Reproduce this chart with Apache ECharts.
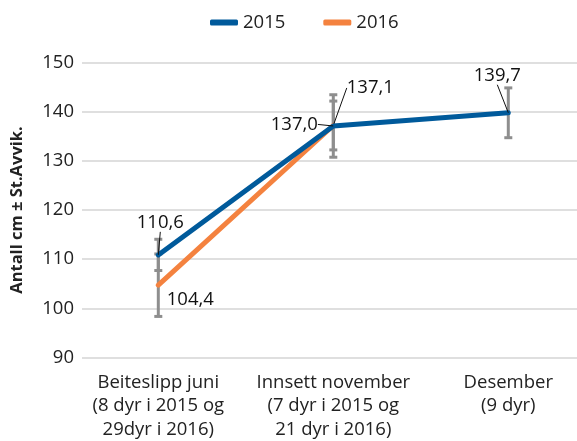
<!DOCTYPE html>
<html><head><meta charset="utf-8">
<script src="https://cdn.jsdelivr.net/npm/echarts@6/dist/echarts.min.js"></script>
<style>html,body{margin:0;padding:0;background:#fff}#c{width:577px;height:441px}</style>
</head><body><div id="c"></div>
<script>
var categories = ['Beiteslipp juni\n(8 dyr i 2015 og\n29dyr i 2016)', 'Innsett november\n(7 dyr i 2015 og\n21 dyr i 2016)', 'Desember\n(9 dyr)'];
var yTicks = [90, 100, 110, 120, 130, 140, 150];
var s2015 = [110.6, 137.0, 139.7];
var s2016 = [104.4, 137.1, null];
var sd2015 = [3.2, 6.4, 5.1];
var sd2016 = [6.4, 5.0, null];

var FONT = 'Open Sans';
var FS = 18.5;
var chart = echarts.init(document.getElementById('c'));

function errData(vals, sds) {
  var out = [];
  for (var i = 0; i < vals.length; i++) {
    if (vals[i] == null) continue;
    out.push([i, vals[i] - sds[i], vals[i] + sds[i]]);
  }
  return out;
}
function renderErr(params, api) {
  var lo = api.coord([api.value(0), api.value(1)]);
  var hi = api.coord([api.value(0), api.value(2)]);
  var w = 4;
  var st = {stroke: '#8e8e8e', lineWidth: 3};
  return {type: 'group', children: [
    {type: 'line', shape: {x1: lo[0], y1: lo[1], x2: hi[0], y2: hi[1]}, style: st},
    {type: 'line', shape: {x1: lo[0] - w, y1: lo[1], x2: lo[0] + w, y2: lo[1]}, style: st},
    {type: 'line', shape: {x1: hi[0] - w, y1: hi[1], x2: hi[0] + w, y2: hi[1]}, style: st}
  ]};
}
function fmt(p) { var v = typeof p.value === 'object' ? p.value.value : p.value; return Number(v).toFixed(1).replace('.', ','); }

var offsets = {
  '0-0': [2, -23], '0-1': [-39, 8], '0-2': [-11, -28],
  '1-0': [32, 24], '1-1': [37, -28]
};

var d2016 = s2016.map(function (v, i) {
  if (i === 0) return {value: v, labelLine: {show: false}};
  return v;
});

chart.setOption({
  animation: false,
  textStyle: {fontFamily: FONT},
  legend: {
    top: 8, left: 205, itemWidth: 28, itemHeight: 6, itemGap: 38,
    icon: 'roundRect',
    textStyle: {fontSize: FS, color: '#222', fontFamily: FONT},
    data: ['2015', '2016']
  },
  grid: [
    {left: 82, right: 0, top: 62.5, bottom: 83.5},
    {left: 158.3, right: 68.7, top: 62.5, bottom: 83.5}
  ],
  xAxis: [
    {gridIndex: 0, type: 'value', min: 0, max: 1, show: false},
    {gridIndex: 1, type: 'category', data: categories, boundaryGap: false,
     axisLine: {show: false}, axisTick: {show: false}, splitLine: {show: false},
     axisLabel: {fontSize: FS, color: '#222', lineHeight: 23.5, margin: 15, fontFamily: FONT, interval: 0}}
  ],
  yAxis: [
    {gridIndex: 0, type: 'value', min: yTicks[0], max: yTicks[yTicks.length - 1], interval: 10,
     name: 'Antall cm ± St.Avvik.', nameLocation: 'middle', nameGap: 56, nameRotate: 90,
     nameTextStyle: {fontSize: 16.5, fontWeight: 'bold', color: '#222', fontFamily: FONT},
     axisLine: {show: false}, axisTick: {show: false},
     axisLabel: {fontSize: FS, color: '#222', margin: 8, fontFamily: FONT},
     splitLine: {lineStyle: {color: '#d4d4d4', width: 1.5}}},
    {gridIndex: 1, type: 'value', min: yTicks[0], max: yTicks[yTicks.length - 1], interval: 10, show: false}
  ],
  series: [
    {type: 'custom', xAxisIndex: 1, yAxisIndex: 1, renderItem: renderErr, data: errData(s2016, sd2016), z: 1, silent: true},
    {type: 'custom', xAxisIndex: 1, yAxisIndex: 1, renderItem: renderErr, data: errData(s2015, sd2015), z: 1, silent: true},
    {name: '2016', type: 'line', xAxisIndex: 1, yAxisIndex: 1, data: d2016, z: 3,
     color: '#f4823f', lineStyle: {width: 5, color: '#f4823f', cap: 'round'},
     symbol: 'circle', symbolSize: 0.1, showSymbol: true, itemStyle: {color: '#f4823f'},
     label: {show: true, position: 'top', distance: 0, fontSize: FS, color: '#111', formatter: fmt, fontFamily: FONT},
     labelLine: {show: true, lineStyle: {color: '#111', width: 1}},
     labelLayout: function (p) { var o = offsets['1-' + p.dataIndex]; return o ? {dx: o[0], dy: o[1]} : {}; }},
    {name: '2015', type: 'line', xAxisIndex: 1, yAxisIndex: 1, data: s2015, z: 4,
     color: '#005a9b', lineStyle: {width: 5, color: '#005a9b', cap: 'round'},
     symbol: 'circle', symbolSize: 0.1, showSymbol: true, itemStyle: {color: '#005a9b'},
     label: {show: true, position: 'top', distance: 0, fontSize: FS, color: '#111', formatter: fmt, fontFamily: FONT},
     labelLine: {show: true, lineStyle: {color: '#111', width: 1}},
     labelLayout: function (p) { var o = offsets['0-' + p.dataIndex]; return o ? {dx: o[0], dy: o[1]} : {}; }}
  ]
});
</script></body></html>
